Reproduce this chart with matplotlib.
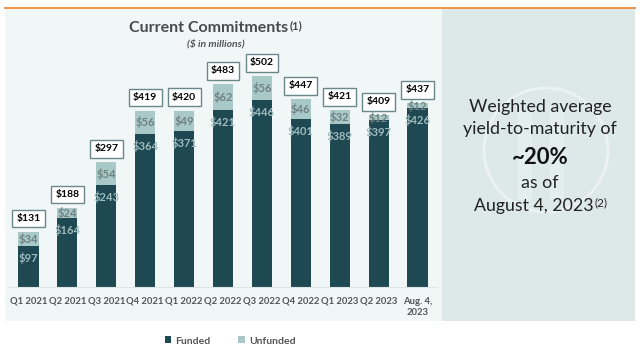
import matplotlib
matplotlib.use('Agg')
import matplotlib.pyplot as plt
from matplotlib.patches import Rectangle, Ellipse
from matplotlib.lines import Line2D
import numpy as np

plt.rcParams['font.family'] = ['Lato', 'DejaVu Sans']

# data
quarters = ['Q1 2021', 'Q2 2021', 'Q3 2021', 'Q4 2021', 'Q1 2022', 'Q2 2022',
            'Q3 2022', 'Q4 2022', 'Q1 2023', 'Q2 2023', 'Aug. 4,\n2023']
funded = [97, 164, 243, 364, 371, 421, 446, 401, 389, 397, 426]
unfunded = [34, 24, 54, 56, 49, 62, 56, 46, 32, 12, 12]
totals = [131, 188, 297, 419, 420, 483, 502, 447, 421, 409, 437]

W, H = 640, 352
dark = '#1e4852'
light = '#a9c8c8'


def fx(px):
    return px / W


def fy(py):
    return 1 - py / H


fig = plt.figure(figsize=(6.4, 3.52), dpi=100, facecolor='white')

# background panels
fig.add_artist(Rectangle((fx(5), fy(321)), fx(437), 313 / H, transform=fig.transFigure,
                         facecolor='#f1f6f6', edgecolor='none', zorder=0))
fig.add_artist(Rectangle((fx(442), fy(321)), fx(193), 313 / H, transform=fig.transFigure,
                         facecolor='#dde9e9', edgecolor='none', zorder=0))
fig.add_artist(Line2D([fx(5), fx(635)], [fy(7.5), fy(7.5)], transform=fig.transFigure,
                      color='#ee8b3a', lw=1.3))

# faint logo watermark
fig.add_artist(Ellipse((fx(546), fy(150)), 124 / W, 124 / H, transform=fig.transFigure,
                       facecolor='none', edgecolor='white', lw=2, alpha=0.45, zorder=1))
for x0 in (518, 550):
    fig.add_artist(Rectangle((fx(x0), fy(200)), fx(14), 90 / H, transform=fig.transFigure,
                             facecolor='white', edgecolor='none', alpha=0.25, zorder=1))

ax = fig.add_axes([fx(9), 65 / H, fx(428), 252 / H])
ax.set_facecolor('none')
x = np.arange(len(quarters))
bw = 0.52
b1 = ax.bar(x, funded, bw, color=dark, label='Funded', zorder=2)
b2 = ax.bar(x, unfunded, bw, bottom=funded, color=light, label='Unfunded', zorder=2)
ax.set_xlim(-0.5, len(quarters) - 0.5)
ax.set_ylim(0, 600)

for i in range(len(quarters)):
    ax.annotate('$%d' % unfunded[i], (x[i], funded[i] + unfunded[i] / 2), ha='center', va='center',
                fontsize=8, fontweight='bold', color='#6f8082', zorder=3)
    ax.annotate('$%d' % funded[i], (x[i], funded[i]), xytext=(0, -12), textcoords='offset pixels',
                ha='center', va='center', fontsize=8, fontweight='bold', color='#9fbcbf', zorder=3)
    ax.annotate('$%d' % totals[i], (x[i], totals[i]), xytext=(0, 9), textcoords='offset pixels',
                ha='center', va='bottom', fontsize=7.5, fontweight='bold', color='black', zorder=4,
                bbox=dict(boxstyle='square,pad=0.42', facecolor='white', edgecolor='#6a878c', lw=1))

ax.set_xticks(x)
ax.set_xticklabels(quarters, fontsize=6.8, fontweight='bold', color='#555555', linespacing=1.3)
ax.tick_params(axis='x', length=0, pad=7)
ax.set_yticks([])
for s in ['top', 'left', 'right']:
    ax.spines[s].set_visible(False)
ax.spines['bottom'].set_color('#dfe4e4')
ax.spines['bottom'].set_linewidth(0.8)

# title
t = fig.text(fx(209), fy(28), 'Current Commitments', ha='center', va='center',
             fontsize=11.5, fontweight='bold', color='#4a4a4a')
ax.annotate('(1)', xy=(1, 1), xycoords=t, xytext=(1, 1), textcoords='offset pixels',
            ha='left', va='top', fontsize=8, fontweight='bold', color='#4a4a4a')
fig.text(fx(216), fy(44), '($ in millions)', ha='center', va='center', fontsize=7.5,
         fontweight='bold', fontstyle='italic', color='#555555')

# right panel text
fig.text(fx(540), fy(107), 'Weighted average', ha='center', va='center', fontsize=12.8, color='#222222')
fig.text(fx(540), fy(129), 'yield-to-maturity of', ha='center', va='center', fontsize=12.8, color='#222222')
fig.text(fx(540), fy(157), '~20%', ha='center', va='center', fontsize=16, fontweight='bold', color='#111111')
fig.text(fx(540), fy(183), 'as of', ha='center', va='center', fontsize=12.8, color='#222222')
t2 = fig.text(fx(534), fy(206), 'August 4, 2023', ha='center', va='center', fontsize=12.8, color='#222222')
ax.annotate('(2)', xy=(1, 1), xycoords=t2, xytext=(1, 1), textcoords='offset pixels',
            ha='left', va='top', fontsize=8.5, color='#222222')

fig.legend(handles=[b1, b2], labels=['Funded', 'Unfunded'], loc='center',
           bbox_to_anchor=(fx(230), fy(341)), ncol=2, frameon=False,
           handlelength=0.65, handleheight=0.65, handletextpad=0.4, columnspacing=2.6,
           labelcolor='#555555', prop={'weight': 'bold', 'size': 7.5})

fig.savefig('out.png', dpi=100, facecolor='white')
